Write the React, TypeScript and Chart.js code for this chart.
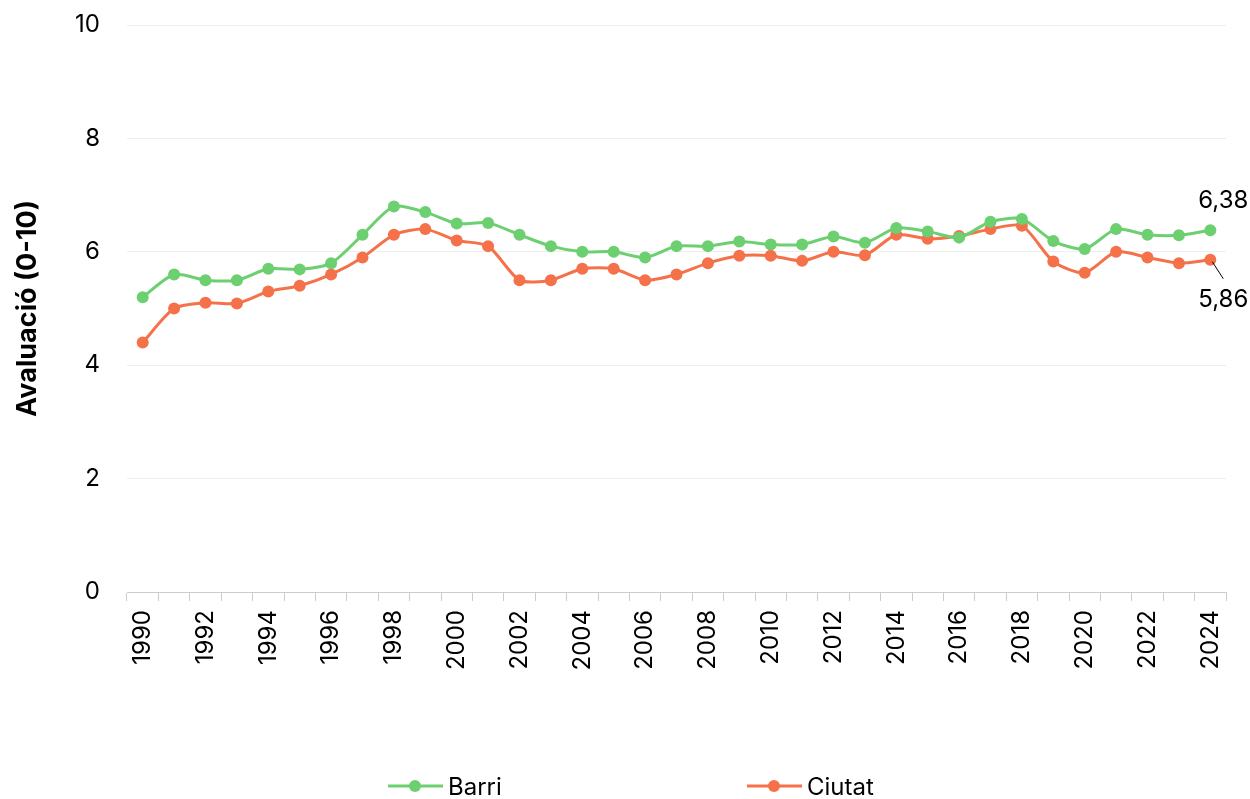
import React, { useEffect, useRef } from "react";
import { Chart, registerables } from "chart.js";

Chart.register(...registerables);

const years: string[] = [
  "1990", "1991", "1992", "1993", "1994", "1995", "1996", "1997", "1998", "1999",
  "2000", "2001", "2002", "2003", "2004", "2005", "2006", "2007", "2008", "2009",
  "2010", "2011", "2012", "2013", "2014", "2015", "2016", "2017", "2018", "2019",
  "2020", "2021", "2022", "2023", "2024",
];

const barri: number[] = [
  5.2, 5.6, 5.5, 5.5, 5.7, 5.69, 5.8, 6.3, 6.8, 6.7,
  6.5, 6.51, 6.3, 6.1, 6.0, 6.0, 5.9, 6.1, 6.1, 6.18,
  6.13, 6.13, 6.27, 6.16, 6.42, 6.36, 6.25, 6.53, 6.58, 6.19,
  6.05, 6.4, 6.3, 6.29, 6.38,
];

const ciutat: number[] = [
  4.4, 5.0, 5.1, 5.09, 5.3, 5.4, 5.6, 5.9, 6.3, 6.4,
  6.2, 6.1, 5.5, 5.5, 5.7, 5.7, 5.5, 5.6, 5.8, 5.93,
  5.93, 5.84, 6.0, 5.94, 6.3, 6.23, 6.28, 6.4, 6.46, 5.83,
  5.63, 6.0, 5.9, 5.8, 5.86,
];

const seriesNames: string[] = ["Barri", "Ciutat"];
const yTitle = "Avaluació (0-10)";

const GREEN = "#6CCF70";
const ORANGE = "#F4714A";
const FONT = "Inter, 'Liberation Sans', sans-serif";

const fmt = (v: number) => v.toFixed(2).replace(".", ",");

const endLabels = {
  id: "endLabels",
  afterDatasetsDraw(chart: any) {
    const ctx = chart.ctx;
    const m0 = chart.getDatasetMeta(0);
    const m1 = chart.getDatasetMeta(1);
    const p0 = m0.data[m0.data.length - 1];
    const p1 = m1.data[m1.data.length - 1];
    const d0 = chart.data.datasets[0].data as number[];
    const d1 = chart.data.datasets[1].data as number[];
    ctx.save();
    ctx.font = `24px ${FONT}`;
    ctx.fillStyle = "#000";
    ctx.textAlign = "center";
    ctx.textBaseline = "middle";
    ctx.fillText(fmt(d0[d0.length - 1]), p0.x + 13, p0.y - 29);
    ctx.fillText(fmt(d1[d1.length - 1]), p1.x + 13, p1.y + 40);
    ctx.strokeStyle = "#000";
    ctx.lineWidth = 1;
    ctx.beginPath();
    ctx.moveTo(p1.x + 2, p1.y + 2);
    ctx.lineTo(p1.x + 13, p1.y + 19);
    ctx.stroke();
    ctx.restore();
  },
};

function LegendItem({ color, label, left }: { color: string; label: string; left: number }) {
  return (
    <div
      style={{
        position: "absolute",
        left,
        top: 772,
        height: 28,
        display: "flex",
        alignItems: "center",
        fontFamily: FONT,
        fontSize: 24,
        color: "#000",
        whiteSpace: "nowrap",
      }}
    >
      <svg width={55} height={16} style={{ marginRight: 5 }}>
        <line x1={0} y1={8} x2={55} y2={8} stroke={color} strokeWidth={3} />
        <circle cx={27} cy={8} r={6} fill={color} />
      </svg>
      <span>{label}</span>
    </div>
  );
}

export default function App() {
  const ref = useRef<HTMLCanvasElement | null>(null);

  useEffect(() => {
    if (!ref.current) return;
    const chart = new Chart(ref.current, {
      type: "line",
      data: {
        labels: years,
        datasets: [
          {
            label: seriesNames[0],
            data: barri,
            borderColor: GREEN,
            backgroundColor: GREEN,
            borderWidth: 3,
            pointRadius: 6,
            pointBorderWidth: 0,
            pointBackgroundColor: GREEN,
            tension: 0.25,
          },
          {
            label: seriesNames[1],
            data: ciutat,
            borderColor: ORANGE,
            backgroundColor: ORANGE,
            borderWidth: 3,
            pointRadius: 6,
            pointBorderWidth: 0,
            pointBackgroundColor: ORANGE,
            tension: 0.25,
          },
        ],
      },
      options: {
        responsive: false,
        animation: false,
        layout: { padding: { top: 25, right: 24, bottom: 0, left: 0 } },
        plugins: {
          legend: { display: false },
          tooltip: { enabled: false },
        },
        scales: {
          x: {
            offset: true,
            grid: {
              display: true,
              drawOnChartArea: false,
              drawTicks: true,
              tickLength: 9,
              color: "#cccccc",
              offset: true,
            },
            border: { display: true, color: "#cccccc", width: 1 },
            ticks: {
              autoSkip: false,
              maxRotation: 90,
              minRotation: 90,
              padding: 9,
              color: "#000",
              font: { family: FONT, size: 24 },
              callback: (_v: any, i: number) => (i % 2 === 0 ? years[i] : ""),
            },
            afterFit: (s: any) => {
              s.height = 207;
            },
          },
          y: {
            min: 0,
            max: 10,
            ticks: {
              stepSize: 2,
              padding: 0,
              color: "#000",
              font: { family: FONT, size: 24 },
            },
            grid: {
              color: "#eeeeee",
              drawTicks: true,
              tickLength: 27,
              tickColor: "rgba(0,0,0,0)",
              lineWidth: 1,
            },
            border: { display: false },
            title: {
              display: true,
              text: yTitle,
              color: "#000",
              font: { family: FONT, size: 27, weight: "bold" },
              padding: { top: 12, bottom: 0 },
            },
            afterFit: (s: any) => {
              s.width = 127;
            },
          },
        },
      },
      plugins: [endLabels],
    });
    return () => chart.destroy();
  }, []);

  return (
    <div style={{ position: "fixed", left: 0, top: 0, width: 1250, height: 799, background: "#fff" }}>
      <canvas ref={ref} width={1250} height={799} style={{ display: "block" }} />
      <LegendItem color={GREEN} label={seriesNames[0]} left={388} />
      <LegendItem color={ORANGE} label={seriesNames[1]} left={747} />
    </div>
  );
}
